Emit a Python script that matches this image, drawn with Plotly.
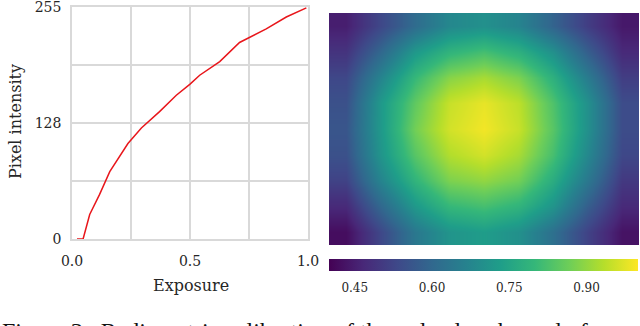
import plotly.graph_objects as go

# ---- data ----
exposure = [0.021, 0.047, 0.075, 0.117, 0.160, 0.237, 0.294, 0.371, 0.442, 0.499,
            0.541, 0.626, 0.710, 0.823, 0.908, 0.993]
intensity = [0, 0, 27, 49, 74, 105, 122, 140, 158, 170,
             180, 195, 216, 231, 244, 254]

x_ticks = [0, 0.25, 0.5, 0.75, 1.0]
x_ticktext = ["0.0", "", "0.5", "", "1.0"]
y_ticks = [0, 63.75, 127.5, 191.25, 255]
y_ticktext = ["0", "", "128", "", "255"]

# vignetting map, coarse grid (rows top->bottom, columns left->right)
vig = [
    [0.45, 0.53, 0.61, 0.68, 0.70, 0.67, 0.59, 0.51, 0.44],
    [0.49, 0.60, 0.72, 0.79, 0.82, 0.78, 0.70, 0.58, 0.47],
    [0.53, 0.67, 0.80, 0.89, 0.92, 0.88, 0.78, 0.65, 0.51],
    [0.55, 0.72, 0.85, 0.95, 0.98, 0.94, 0.83, 0.70, 0.54],
    [0.56, 0.72, 0.87, 0.96, 0.99, 0.95, 0.84, 0.70, 0.54],
    [0.55, 0.71, 0.84, 0.93, 0.96, 0.92, 0.82, 0.68, 0.53],
    [0.52, 0.67, 0.79, 0.88, 0.90, 0.87, 0.77, 0.64, 0.50],
    [0.47, 0.60, 0.72, 0.80, 0.82, 0.79, 0.71, 0.58, 0.47],
    [0.42, 0.53, 0.64, 0.71, 0.73, 0.70, 0.62, 0.52, 0.43],
]
cbar_ticks = [0.45, 0.60, 0.75, 0.90]
cbar_ticktext = ["0.45", "0.60", "0.75", "0.90"]

caption = "Figure 3.  Radiometric calibration of the red color channel of"

W, H = 640, 326
FONT = "DejaVu Serif"
TXT = "#262626"
GRID = "#d9d9d9"


def px(v):
    return v / W


def py(v):
    return (H - v) / H


fig = go.Figure()
fig.add_trace(go.Scatter(x=exposure, y=intensity, mode="lines",
                         line=dict(color="#e8161b", width=1.5),
                         xaxis="x", yaxis="y", showlegend=False))
fig.add_trace(go.Heatmap(z=vig, xaxis="x2", yaxis="y2", colorscale="Viridis",
                         zmin=0.40, zmax=1.0, zsmooth="best",
                         colorbar=dict(orientation="h", x=(px(329) + px(638)) / 2, xanchor="center",
                                       y=py(259), yanchor="top", len=309 / W,
                                       thickness=12, xpad=0, ypad=0, outlinewidth=0,
                                       tickvals=cbar_ticks, ticktext=cbar_ticktext,
                                       ticks="outside", ticklen=7, tickcolor="rgba(0,0,0,0)",
                                       tickfont=dict(family=FONT, size=12, color=TXT))))

fig.update_layout(
    width=W, height=H, margin=dict(l=0, r=0, t=0, b=0, autoexpand=False),
    paper_bgcolor="white", plot_bgcolor="white",
    xaxis=dict(domain=[px(72), px(308)], range=[0, 1], tickvals=x_ticks, ticktext=x_ticktext,
               showgrid=True, gridcolor=GRID, gridwidth=1.5, zeroline=False,
               showline=True, mirror=True, linecolor=GRID, linewidth=1.5,
               ticks="", ticklabelstandoff=8, automargin=False, ticklabeloverflow="allow",
               tickfont=dict(family=FONT, size=14, color=TXT)),
    yaxis=dict(domain=[py(239), py(7)], range=[0, 255], tickvals=y_ticks, ticktext=y_ticktext,
               showgrid=True, gridcolor=GRID, gridwidth=1.5, zeroline=False,
               showline=True, mirror=True, linecolor=GRID, linewidth=1.5,
               ticks="", ticklabelstandoff=6, automargin=False, ticklabeloverflow="allow",
               tickfont=dict(family=FONT, size=14, color=TXT)),
    xaxis2=dict(domain=[px(329), px(639)], visible=False, range=[-0.5, 8.5], automargin=False),
    yaxis2=dict(domain=[py(245), py(13)], visible=False, range=[8.5, -0.5], automargin=False),
    annotations=[
        dict(text="Pixel intensity", xref="paper", yref="paper", x=px(16), y=py(122),
             xanchor="center", yanchor="middle", textangle=-90, showarrow=False,
             font=dict(family=FONT, size=16, color=TXT)),
        dict(text="Exposure", xref="paper", yref="paper", x=px(191), y=py(285),
             xanchor="center", yanchor="middle", showarrow=False,
             font=dict(family=FONT, size=16, color=TXT)),
        dict(text=caption, xref="paper", yref="paper", x=px(0), xanchor="left",
             y=py(316), yanchor="top", showarrow=False,
             font=dict(family="Liberation Serif", size=24, color="#111")),
    ],
)

fig.write_html("out.html", config={"displayModeBar": False},
               post_script="document.body.style.margin='0';document.body.style.overflow='hidden';")
